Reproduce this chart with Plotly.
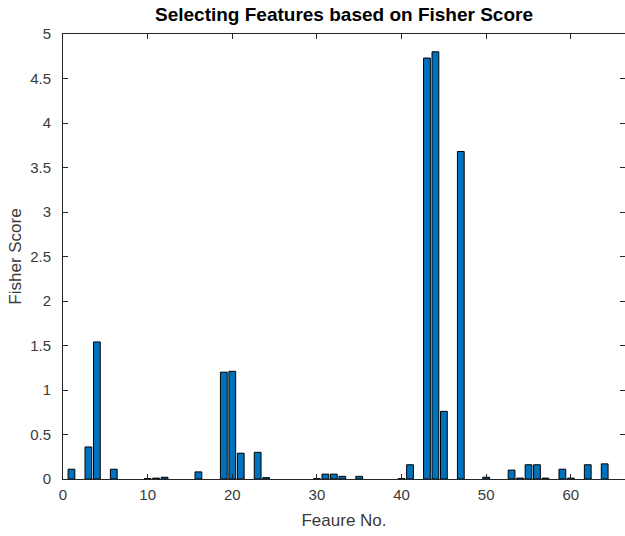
import plotly.graph_objects as go

# Fisher score per feature (features with no visible score are omitted)
features = [1, 3, 4, 6, 10, 11, 12, 16, 19, 20, 21, 23, 24,
            30, 31, 32, 33, 35, 40, 41, 43, 44, 45, 47, 50,
            53, 54, 55, 56, 57, 59, 60, 62, 64]
scores = [0.11, 0.36, 1.54, 0.11, 0.005, 0.01, 0.02, 0.08, 1.20, 1.21, 0.29, 0.30, 0.015,
          0.004, 0.055, 0.055, 0.03, 0.03, 0.004, 0.16, 4.73, 4.80, 0.76, 3.68, 0.02,
          0.10, 0.01, 0.16, 0.16, 0.01, 0.11, 0.01, 0.16, 0.17]

x_ticks = [0, 10, 20, 30, 40, 50, 60]
y_ticks = [0, 0.5, 1, 1.5, 2, 2.5, 3, 3.5, 4, 4.5, 5]

font_family = "Liberation Sans, Arial, sans-serif"
axis_color = "#262626"
text_color = "#3a3a3a"

fig = go.Figure(
    go.Bar(
        x=features,
        y=scores,
        width=0.8,
        marker=dict(color="#0072BD", line=dict(color="#000000", width=1)),
    )
)

common_axis = dict(
    showline=True,
    mirror="ticks",
    linecolor=axis_color,
    linewidth=1,
    ticks="inside",
    ticklen=5,
    tickcolor=axis_color,
    showgrid=False,
    zeroline=False,
    tickfont=dict(family=font_family, size=15, color=text_color),
)

fig.update_layout(
    width=625,
    height=536,
    margin=dict(l=63, r=0, t=34, b=57),
    paper_bgcolor="white",
    plot_bgcolor="white",
    showlegend=False,
    title=dict(
        text="<b>Selecting Features based on Fisher Score</b>",
        x=(63 + 625) / 2 / 625,
        xanchor="center",
        y=1 - 14 / 536,
        yanchor="middle",
        font=dict(family=font_family, size=19, color="#000000"),
    ),
    xaxis=dict(
        common_axis,
        range=[0, 66.4],
        tickvals=x_ticks,
        ticklabelstandoff=2,
        title=dict(text="Feaure No.", font=dict(family=font_family, size=17, color=text_color), standoff=12),
    ),
    yaxis=dict(
        common_axis,
        range=[0, 5],
        tickvals=y_ticks,
        ticktext=[f"{v:g}" for v in y_ticks],
        ticklabelstandoff=8,
        title=dict(text="Fisher Score", font=dict(family=font_family, size=17, color=text_color), standoff=4),
    ),
)

fig.write_html("out.html")
